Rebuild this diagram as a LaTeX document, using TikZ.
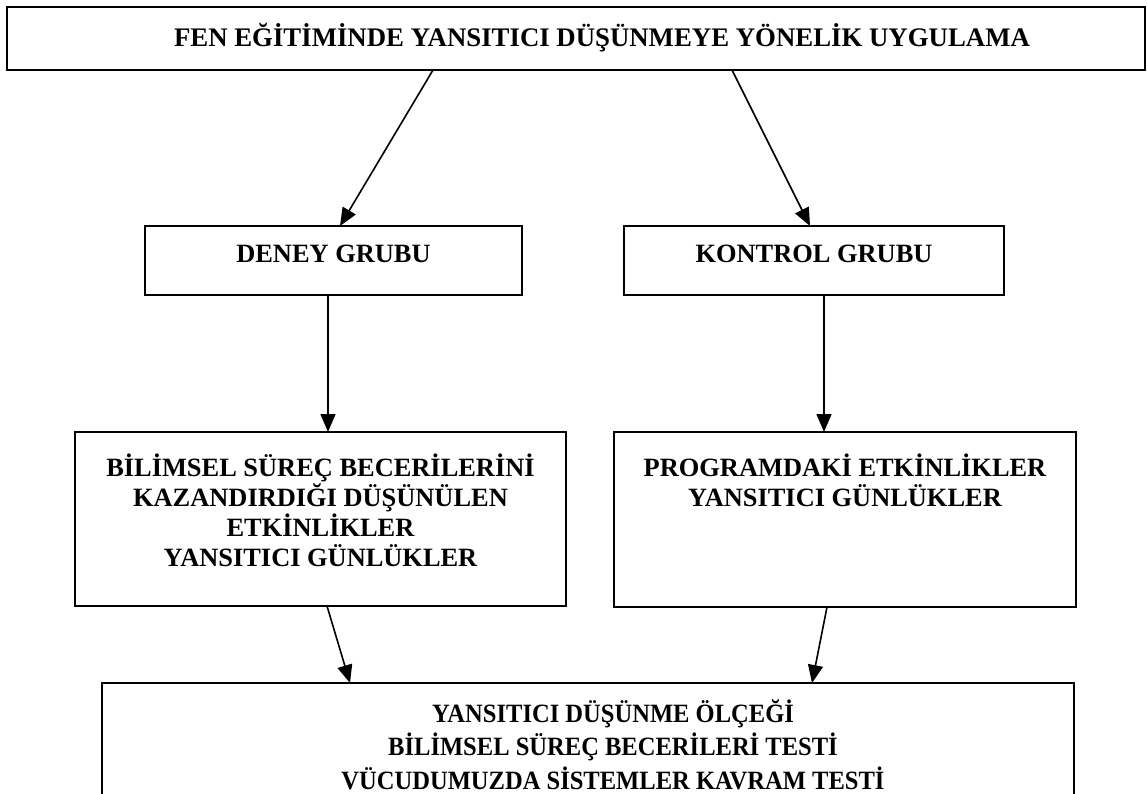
\documentclass[tikz,border=0pt]{standalone}
\usepackage{fontspec}
\setmainfont{Liberation Serif}
\usetikzlibrary{arrows.meta}

% fixed-size box contents: width, height, first baseline from top, lines
\newcommand{\boxlines}[4]{\parbox[c][#2][t]{#1}{\centering\rule{0pt}{#3}#4}}

\tikzset{
  frame/.style={draw, line width=1.4pt, inner sep=0pt, outer sep=0pt,
    font=\fontsize{26.4}{30}\selectfont\bfseries},
  flow/.style={line width=1.6pt, -{Triangle[length=18pt,width=15pt]}}
}

\begin{document}
\begin{tikzpicture}[x=1pt,y=-1pt]
  \useasboundingbox (0,0) rectangle (1147,794);
  \clip (0,0) rectangle (1147,794);

  % title
  \node[frame, anchor=north west, font=\fontsize{26.8}{30}\selectfont\bfseries] (top) at (7,7)
    {\boxlines{1138pt}{63pt}{40pt}{\hspace*{52pt}FEN EĞİTİMİNDE YANSITICI DÜŞÜNMEYE YÖNELİK UYGULAMA}};

  % the two groups
  \node[frame, anchor=north west] (deney) at (145,226)
    {\boxlines{377pt}{69pt}{36pt}{DENEY GRUBU}};
  \node[frame, anchor=north west] (kontrol) at (624,226)
    {\boxlines{380pt}{69pt}{36pt}{KONTROL GRUBU}};

  % activities of each group
  \node[frame, anchor=north west] (actL) at (75,432)
    {\boxlines{491pt}{174pt}{44pt}{BİLİMSEL SÜREÇ BECERİLERİNİ\\KAZANDIRDIĞI DÜŞÜNÜLEN\\ETKİNLİKLER\\YANSITICI GÜNLÜKLER}};
  \node[frame, anchor=north west] (actR) at (614,432)
    {\boxlines{462pt}{175pt}{44pt}{PROGRAMDAKİ ETKİNLİKLER\\YANSITICI GÜNLÜKLER}};

  % measurement tools (box runs past the lower edge)
  \node[frame, anchor=north west,
        font=\fontsize{26.4}{33.5}\selectfont\bfseries\addfontfeatures{FakeStretch=0.93}] (tests) at (102,683)
    {\boxlines{972pt}{170pt}{39pt}{\hspace*{50pt}YANSITICI DÜŞÜNME ÖLÇEĞİ\\
      \hspace*{50pt}BİLİMSEL SÜREÇ BECERİLERİ TESTİ\\
      \hspace*{50pt}VÜCUDUMUZDA SİSTEMLER KAVRAM TESTİ}};

  % connectors
  \draw[flow] ([xshift=-143pt]top.south) -- ([xshift=6.5pt]deney.north);
  \draw[flow] ([xshift=156pt]top.south) -- ([xshift=-4pt]kontrol.north);
  \draw[flow] ([xshift=-5.5pt]deney.south) -- ([xshift=-5.5pt]deney.south |- actL.north);
  \draw[flow] ([xshift=10pt]kontrol.south) -- ([xshift=10pt]kontrol.south |- actR.north);
  \draw[flow] ([xshift=6.5pt]actL.south) -- ([xshift=-238pt]tests.north);
  \draw[flow] ([xshift=-18pt]actR.south) -- ([xshift=224pt]tests.north);
\end{tikzpicture}
\end{document}
